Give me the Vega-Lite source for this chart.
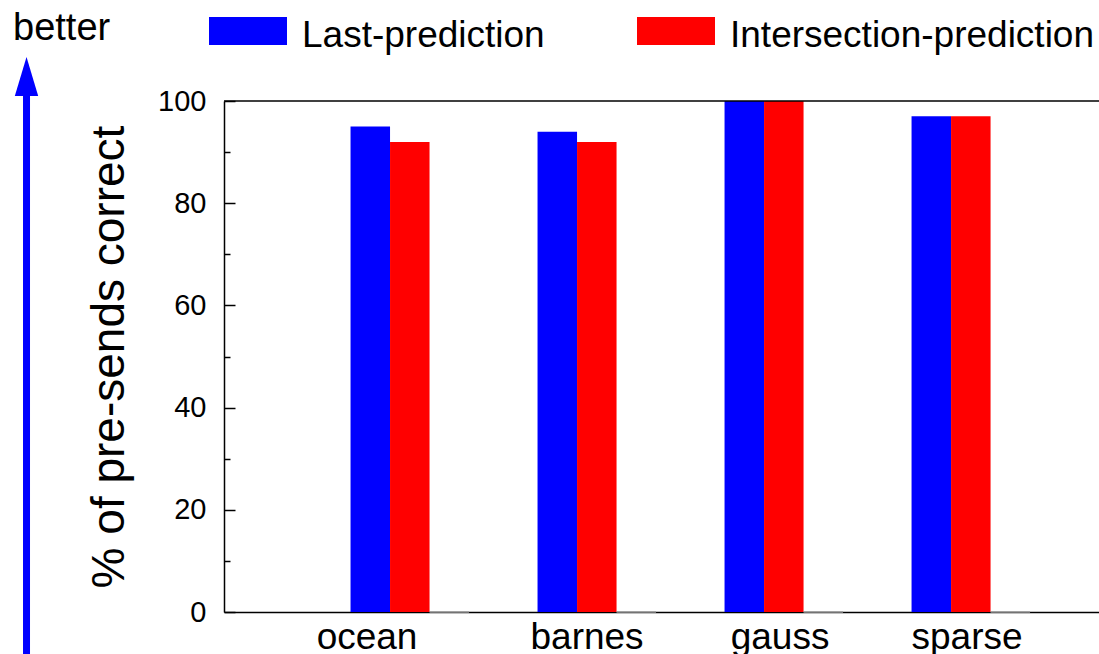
{
  "$schema": "https://vega.github.io/schema/vega-lite/v6.json",
  "width": 875,
  "height": 511,
  "autosize": {"type": "none"},
  "padding": {"left": 224, "top": 101, "right": 0, "bottom": 42},
  "config": {
    "font": "Liberation Sans",
    "view": {"stroke": null},
    "axis": {"grid": false, "labelColor": "black", "titleColor": "black", "domainColor": "black", "tickColor": "black"}
  },
  "resolve": {"scale": {"x": "independent"}, "axis": {"x": "independent", "y": "independent"}},
  "layer": [
    {
      "data": {
        "values": [
          {"benchmark": "ocean", "series": "Last-prediction", "value": 95},
          {"benchmark": "ocean", "series": "Intersection-prediction", "value": 92},
          {"benchmark": "ocean", "series": "other", "value": 0},
          {"benchmark": "barnes", "series": "Last-prediction", "value": 94},
          {"benchmark": "barnes", "series": "Intersection-prediction", "value": 92},
          {"benchmark": "barnes", "series": "other", "value": 0},
          {"benchmark": "gauss", "series": "Last-prediction", "value": 100},
          {"benchmark": "gauss", "series": "Intersection-prediction", "value": 100},
          {"benchmark": "gauss", "series": "other", "value": 0},
          {"benchmark": "sparse", "series": "Last-prediction", "value": 97},
          {"benchmark": "sparse", "series": "Intersection-prediction", "value": 97},
          {"benchmark": "sparse", "series": "other", "value": 0}
        ]
      },
      "encoding": {
        "x": {
          "field": "benchmark", "type": "nominal",
          "sort": ["ocean", "barnes", "gauss", "sparse"],
          "scale": {"paddingInner": 0.155, "paddingOuter": 0.417, "align": 0.558},
          "axis": {
            "title": null, "ticks": false, "domainWidth": 1.5,
            "labelFontSize": 37, "labelAngle": 0, "labelBaseline": "alphabetic", "labelPadding": 36,
            "labelOffset": {"condition": [{"test": "datum.value === 'ocean'", "value": -23}, {"test": "datum.value === 'barnes'", "value": 10}], "value": 16}
          }
        },
        "xOffset": {
          "field": "series", "type": "nominal",
          "scale": {"domain": ["s0", "Last-prediction", "Intersection-prediction", "other"], "paddingInner": 0, "paddingOuter": 0}
        },
        "y": {
          "field": "value", "type": "quantitative",
          "scale": {"domain": [0, 100], "nice": false},
          "axis": {
            "values": [0, 20, 40, 60, 80, 100], "tickSize": -11, "tickWidth": 1.5, "domainWidth": 1.5,
            "labelFontSize": 29, "labelPadding": 29,
            "title": "% of pre-sends correct", "titleFontSize": 46, "titleFontWeight": "normal", "titlePadding": 24
          }
        }
      },
      "layer": [
        {
          "transform": [{"filter": "datum.series !== 'other'"}],
          "mark": {"type": "bar"},
          "encoding": {
            "color": {
              "field": "series", "type": "nominal",
              "scale": {"domain": ["Last-prediction", "Intersection-prediction"], "range": ["#0000ff", "#ff0000"]},
              "legend": {
                "orient": "none", "legendX": -15, "legendY": -104, "direction": "horizontal", "title": null,
                "symbolType": "M-1,-0.487H1V0.231H-1Z", "symbolSize": 6084, "symbolStrokeWidth": 0, "symbolOpacity": 1,
                "labelFontSize": 37, "labelColor": "black", "labelOffset": 15, "columnPadding": 92, "padding": 0, "labelLimit": 0
              }
            }
          }
        },
        {
          "transform": [{"filter": "datum.series === 'other'"}],
          "mark": {"type": "bar", "fill": "#999999", "stroke": "#999999", "strokeWidth": 1.5}
        }
      ]
    },
    {
      "data": {"values": [{"top": 100}]},
      "mark": {"type": "rule", "color": "black", "strokeWidth": 1.5},
      "encoding": {
        "y": {
          "field": "top", "type": "quantitative",
          "scale": {"domain": [0, 100], "nice": false},
          "axis": {"orient": "left", "values": [10, 30, 50, 70, 90], "tickSize": -6, "tickWidth": 1.5, "labels": false, "domain": false, "title": null}
        }
      }
    },
    {
      "encoding": {
        "x": {"field": "x", "type": "quantitative", "scale": {"domain": [0, 100], "nice": false, "zero": false}, "axis": null}
      },
      "layer": [
        {
          "data": {"values": [{"x": -22.57, "y": -15, "y2": 103}]},
          "mark": {"type": "rule", "color": "#0000ff", "strokeWidth": 7},
          "encoding": {
            "y": {"field": "y", "type": "quantitative", "scale": {"domain": [0, 100], "nice": false}, "axis": null},
            "y2": {"field": "y2"}
          }
        },
        {
          "data": {"values": [{"x": -22.57, "y": 104.8}]},
          "mark": {"type": "point", "shape": "M0,-1L-0.6,1L0.6,1Z", "size": 1521, "filled": true, "color": "#0000ff", "opacity": 1, "strokeWidth": 0},
          "encoding": {
            "y": {"field": "y", "type": "quantitative", "scale": {"domain": [0, 100], "nice": false}, "axis": null}
          }
        },
        {
          "data": {"values": [{"x": -24.11, "y": 111.94, "label": "better"}]},
          "mark": {"type": "text", "align": "left", "baseline": "alphabetic", "fontSize": 38, "color": "black"},
          "encoding": {
            "y": {"field": "y", "type": "quantitative", "scale": {"domain": [0, 100], "nice": false}, "axis": null},
            "text": {"field": "label"}
          }
        }
      ]
    }
  ]
}
